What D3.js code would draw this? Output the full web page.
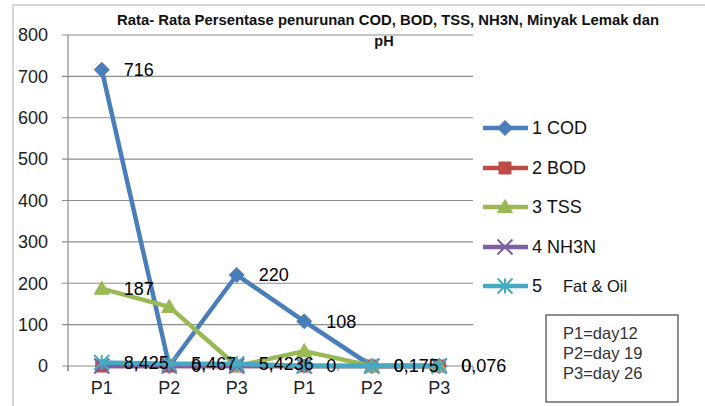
<!DOCTYPE html>
<html><head><meta charset="utf-8">
<script src="https://cdn.jsdelivr.net/npm/d3@7"></script>
<style>body{margin:0;background:#fff}svg{display:block}text{font-family:"Liberation Sans",Arial,sans-serif}</style>
</head><body><svg id="c" width="705" height="406"></svg>
<script>
const categories = ["P1","P2","P3","P1","P2","P3"];
const codValues = [716, 0, 220, 108, 0, 0];
const bodValues = [0, 0, 0, 0, 0, 0];
const tssValues = [187, 143, 0, 36, 0, 0];
const nh3nValues = [0, 0, 0, 0, 0, 0];
const fatValues = [8.425, 5.467, 5.4236, 0, 0.175, 0.076];
const codLabels = ["716", "0", "220", "108", "0", "0"];
const tssLabels = ["187", "", "", "", "", ""];
const fatLabels = ["8,425", "5,467", "5,4236", "0", "0,175", "0,076"];
const yTicks = [0, 100, 200, 300, 400, 500, 600, 700, 800];
const seriesNames = ["1 COD", "2 BOD", "3 TSS", "4 NH3N", "5"];
const noteLines = ["P1=day12", "P2=day 19", "P3=day 26"];
const titleLines = ["Rata- Rata Persentase penurunan COD, BOD, TSS, NH3N, Minyak Lemak dan", "pH"];

const series = [
  {name: seriesNames[0], values: codValues, labels: codLabels, color: "#4A7EBB", marker: "diamond"},
  {name: seriesNames[1], values: bodValues, labels: null, color: "#BE4B48", marker: "square"},
  {name: seriesNames[2], values: tssValues, labels: tssLabels, color: "#98B954", marker: "triangle"},
  {name: seriesNames[3], values: nh3nValues, labels: null, color: "#7D60A0", marker: "x"},
  {name: seriesNames[4], values: fatValues, labels: fatLabels, color: "#46AAC5", marker: "star"}
];

const svg = d3.select("#c");
svg.append("path").attr("d","M13,406 L13,5 L705,5").attr("fill","none").attr("stroke","#c8c8c8").attr("stroke-width",1.5);

const x = d3.scaleBand().domain(d3.range(categories.length)).range([68, 473]);
const y = d3.scaleLinear().domain([0, 800]).range([366, 35]);
const cx = i => x(i) + x.bandwidth()/2;

svg.append("g").selectAll("line").data(yTicks).join("line")
  .attr("x1", 62).attr("x2", 473).attr("y1", d => y(d)).attr("y2", d => y(d))
  .attr("stroke", "#8c8c8c").attr("stroke-width", 1.2);
svg.append("line").attr("x1",68).attr("x2",68).attr("y1",y(800)).attr("y2",371).attr("stroke","#8c8c8c").attr("stroke-width",1.2);
svg.append("g").selectAll("line").data(d3.range(categories.length+1)).join("line")
  .attr("x1", i => 68 + i*x.step()).attr("x2", i => 68 + i*x.step()).attr("y1", 366).attr("y2", 371)
  .attr("stroke", "#8c8c8c").attr("stroke-width", 1.2);
svg.append("g").selectAll("text").data(yTicks).join("text")
  .attr("x", 48).attr("y", d => y(d)).attr("dy","0.35em").attr("text-anchor","end")
  .attr("font-size", 18).attr("fill","#222").text(d => d);
svg.append("g").selectAll("text").data(categories).join("text")
  .attr("x", (d,i) => cx(i)).attr("y", 388).attr("dy","0.35em").attr("text-anchor","middle")
  .attr("font-size", 18).attr("fill","#222").text(d => d);

function markerPath(type, s) {
  switch(type) {
    case "diamond": return `M0,${-s}L${s},0L0,${s}L${-s},0Z`;
    case "square": return `M${-s*0.8},${-s*0.8}H${s*0.8}V${s*0.8}H${-s*0.8}Z`;
    case "triangle": return `M0,${-s}L${s},${s*0.75}L${-s},${s*0.75}Z`;
    case "x": return `M${-s},${-s}L${s},${s}M${-s},${s}L${s},${-s}`;
    case "star": return `M${-s},${-s}L${s},${s}M${-s},${s}L${s},${-s}M0,${-s}V${s}`;
  }
}
function drawMarker(g, type, color, px, py, s) {
  const open = type === "x" || type === "star";
  g.append("path").attr("transform", `translate(${px},${py})`).attr("d", markerPath(type, s))
    .attr("fill", open ? "none" : color).attr("stroke", color).attr("stroke-width", open ? 2 : 1);
}

const line = d3.line().x((d,i) => cx(i)).y(d => y(d));
series.forEach(s => {
  const g = svg.append("g");
  g.append("path").datum(s.values).attr("d", line).attr("fill","none")
    .attr("stroke", s.color).attr("stroke-width", 4.5).attr("stroke-linejoin","round");
  s.values.forEach((v,i) => drawMarker(g, s.marker, s.color, cx(i), y(v), 7.5));
});
series.forEach(s => {
  if (!s.labels) return;
  svg.append("g").selectAll("text").data(s.values).join("text")
    .attr("x", (d,i) => cx(i) + 22).attr("y", d => y(d)).attr("dy","0.35em")
    .attr("font-size", 18).attr("fill","#000").text((d,i) => s.labels[i]);
});

const lg = svg.append("g");
const legY = [128, 168, 207, 247, 286];
series.forEach((s,k) => {
  lg.append("line").attr("x1",483).attr("x2",528).attr("y1",legY[k]).attr("y2",legY[k])
    .attr("stroke", s.color).attr("stroke-width",4.5);
  drawMarker(lg, s.marker, s.color, 505, legY[k], 7.5);
  lg.append("text").attr("x",532).attr("y",legY[k]).attr("dy","0.35em").attr("font-size",18).attr("fill","#111").text(s.name);
});
lg.append("text").attr("x",563).attr("y",legY[4]).attr("dy","0.35em").attr("font-size",16.5).attr("fill","#111").text("Fat & Oil");

svg.append("rect").attr("x",546).attr("y",315).attr("width",132).attr("height",87).attr("fill","#fff").attr("stroke","#444").attr("stroke-width",1.2);
svg.append("g").selectAll("text").data(noteLines).join("text")
  .attr("x",563).attr("y",(d,i) => 333 + i*20).attr("dy","0.35em").attr("font-size",16.5).attr("fill","#333").text(d => d);

svg.append("text").attr("x",388).attr("y",25).attr("text-anchor","middle").attr("font-size",14.5)
  .attr("font-weight","bold").attr("textLength",542).attr("lengthAdjust","spacingAndGlyphs").attr("fill","#111").text(titleLines[0]);
svg.append("text").attr("x",384).attr("y",46).attr("text-anchor","middle").attr("font-size",14.5)
  .attr("font-weight","bold").attr("fill","#111").text(titleLines[1]);
</script></body></html>
